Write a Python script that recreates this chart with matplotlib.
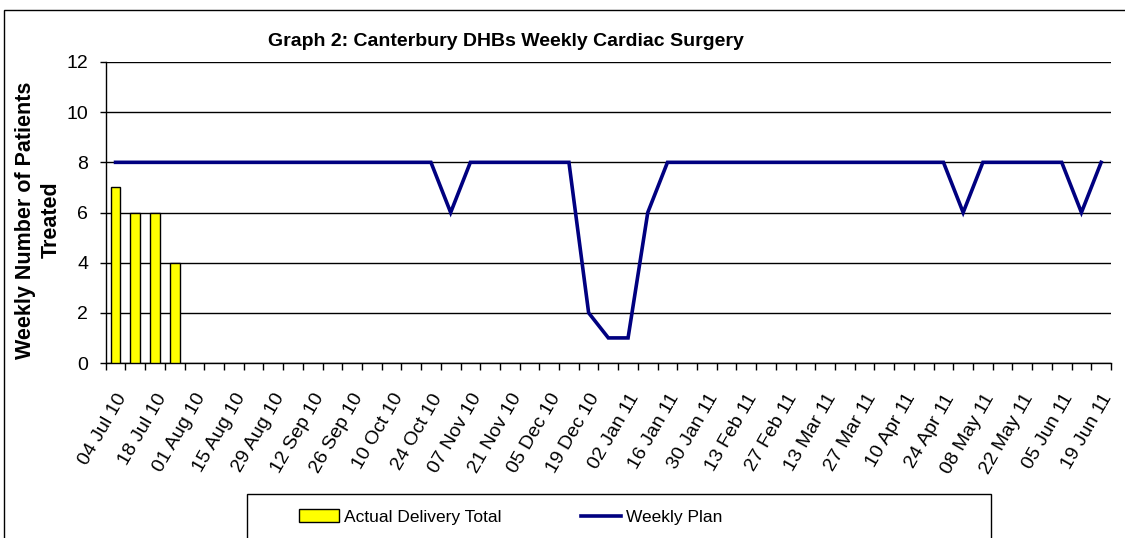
import numpy as np
import matplotlib
matplotlib.use("Agg")
import matplotlib.pyplot as plt
from matplotlib.patches import Rectangle

plt.rcParams['font.family'] = ['Liberation Sans', 'DejaVu Sans']

# Données : 51 semaines, du 04 Jul 10 au 19 Jun 11
n_weeks = 51
week_labels = ["04 Jul 10", "18 Jul 10", "01 Aug 10", "15 Aug 10", "29 Aug 10",
               "12 Sep 10", "26 Sep 10", "10 Oct 10", "24 Oct 10", "07 Nov 10",
               "21 Nov 10", "05 Dec 10", "19 Dec 10", "02 Jan 11", "16 Jan 11",
               "30 Jan 11", "13 Feb 11", "27 Feb 11", "13 Mar 11", "27 Mar 11",
               "10 Apr 11", "24 Apr 11", "08 May 11", "22 May 11", "05 Jun 11",
               "19 Jun 11"]

actual = [7, 6, 6, 4]

weekly_plan = [8, 8, 8, 8, 8, 8, 8, 8, 8, 8, 8, 8, 8, 8, 8, 8, 8,
               6,
               8, 8, 8, 8, 8, 8,
               2, 1, 1, 6,
               8, 8, 8, 8, 8, 8, 8, 8, 8, 8, 8, 8, 8, 8, 8,
               6,
               8, 8, 8, 8, 8,
               6,
               8]

W, H = 1125, 538
fig = plt.figure(figsize=(W / 100, H / 100), dpi=100)
ax = fig.add_axes([105.7 / W, 1 - 363 / H, (1111 - 105.7) / W, (363 - 62) / H])

x = np.arange(n_weeks)
barres = ax.bar(np.arange(len(actual)), actual, width=0.5, color="#FFFF00", edgecolor="black",
                linewidth=1.0, zorder=3)
ligne, = ax.plot(x, weekly_plan, color="#000080", linewidth=2.6, zorder=4,
                 solid_joinstyle="miter")

ax.set_xlim(-0.5, n_weeks - 0.5)
ax.set_ylim(0, 12)
ax.set_yticks(range(0, 13, 2))
ax.yaxis.grid(True, color="black", linewidth=1.0)
ax.set_axisbelow(True)
for s in ["top", "right"]:
    ax.spines[s].set_visible(False)
ax.spines["left"].set_linewidth(1.0)
ax.spines["bottom"].set_linewidth(1.0)

ax.tick_params(axis="y", direction="out", length=4.5, width=1, labelsize=14, pad=8)
ax.set_xticks(x[::2])
ax.set_xticklabels(week_labels, rotation=60, ha="right", va="top",
                   rotation_mode="anchor", fontsize=14)
ax.tick_params(axis="x", which="major", length=0, pad=20)
ax.set_xticks(np.arange(-0.5, n_weeks, 1), minor=True)
ax.tick_params(axis="x", which="minor", direction="out", length=5, width=1)

fig.text(506 / W, 1 - 41 / H, "Graph 2: Canterbury DHBs Weekly Cardiac Surgery",
         ha="center", va="center", fontsize=14, fontweight="bold")
fig.text(38 / W, 1 - 220 / H, "Weekly Number of Patients\nTreated", rotation=90,
         ha="center", va="center", fontsize=15.5, fontweight="bold", linespacing=1.3)

# cadre extérieur et boîte de légende
fig.patches.append(Rectangle((4 / W, -0.1), 1.2, 1 - 10 / H + 0.1, transform=fig.transFigure,
                             fill=False, edgecolor="black", linewidth=1.0))
fig.patches.append(Rectangle((247 / W, -0.1), (991 - 247) / W, 1 - 494 / H + 0.1,
                             transform=fig.transFigure, fill=False, edgecolor="black",
                             linewidth=1.0))

fig.legend([barres, ligne], ["Actual Delivery Total", "Weekly Plan"], loc="center left",
           bbox_to_anchor=(290 / W, 1 - 517 / H), ncol=2,
           frameon=False, fontsize=12.5, borderpad=0, handlelength=2.3, handleheight=0.8,
           handletextpad=0.3, columnspacing=4.6)

plt.savefig("out.png", dpi=100)
